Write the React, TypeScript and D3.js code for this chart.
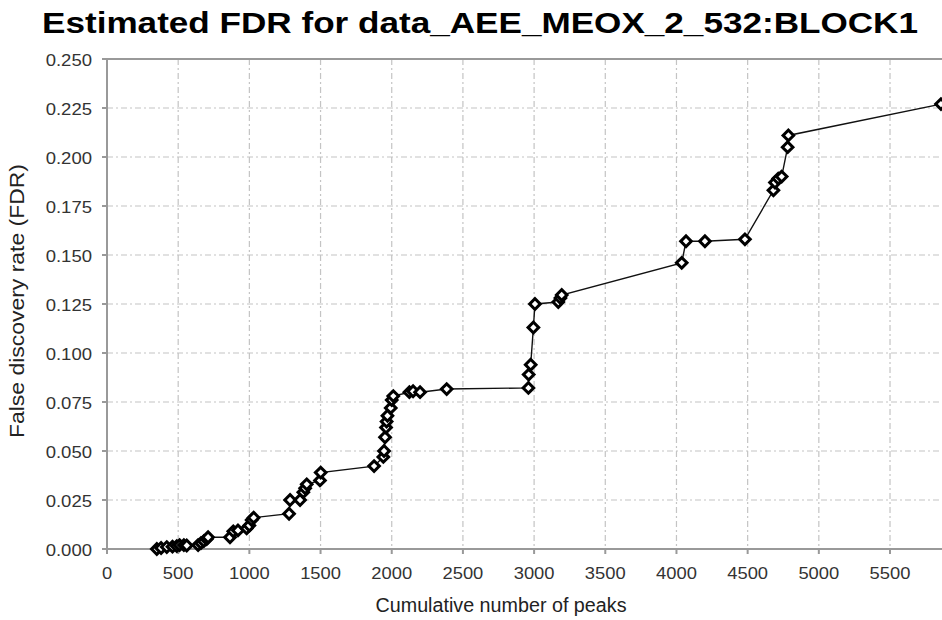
import { useRef, useEffect } from 'react';
import * as d3 from 'd3';

const peaks = [
  350, 380, 420, 460, 490, 510, 540, 560, 640, 660, 680, 700, 710,
  864, 887, 920, 981, 1000, 1016, 1030,
  1279, 1286, 1356, 1379, 1392, 1403, 1496, 1501,
  1876, 1941, 1946, 1953, 1960, 1964, 1970, 1993, 2000, 2011,
  2124, 2150, 2199, 2386,
  2960, 2962, 2976, 2995, 3006, 3170, 3185, 3194,
  4037, 4067, 4200, 4481, 4681, 4692, 4715, 4739, 4781, 4786, 5858,
];
const fdr = [
  0.0, 0.0005, 0.001, 0.0012, 0.0015, 0.002, 0.002, 0.0018, 0.002, 0.003, 0.004, 0.005, 0.006,
  0.006, 0.009, 0.0095, 0.0105, 0.012, 0.0148, 0.016,
  0.018, 0.025, 0.025, 0.029, 0.031, 0.033, 0.035, 0.039,
  0.0423, 0.047, 0.05, 0.057, 0.062, 0.065, 0.068, 0.072, 0.076, 0.078,
  0.08, 0.0805, 0.08, 0.0816,
  0.0822, 0.089, 0.094, 0.113, 0.125, 0.126, 0.128, 0.1296,
  0.146, 0.157, 0.157, 0.158, 0.183, 0.187, 0.189, 0.19, 0.205, 0.211, 0.227,
];
const xTicks = [0, 500, 1000, 1500, 2000, 2500, 3000, 3500, 4000, 4500, 5000, 5500];
const yTicks = [0, 0.025, 0.05, 0.075, 0.1, 0.125, 0.15, 0.175, 0.2, 0.225, 0.25];

const W = 942;
const H = 620;
const font = 'Liberation Sans, Arial, sans-serif';

// stretched glyphs like the source bitmap: digits ~10px, dot ~5.5px
const labelLen = (s: string) =>
  s.split('').reduce((a, c) => a + (c === '.' ? 5.5 : 10.2), 0);

export default function App() {
  const svgRef = useRef<SVGSVGElement>(null);

  useEffect(() => {
    const svg = d3.select(svgRef.current);
    svg.selectAll('*').remove();

    const x = d3.scaleLinear().domain([0, 6000]).range([107, 961.2]);
    const y = d3.scaleLinear().domain([0, 0.25]).range([549, 59]);
    const left = x(0);
    const bottom = y(0);
    const top = y(0.25);

    svg.append('rect').attr('width', W).attr('height', H).attr('fill', 'white');

    // grid
    const grid = svg.append('g').attr('stroke', '#c4c4c4').attr('stroke-width', 1.2)
      .attr('stroke-dasharray', '6,3,2,3');
    grid.selectAll('.vx').data(xTicks.filter(d => d > 0)).enter().append('line')
      .attr('x1', d => x(d)).attr('x2', d => x(d)).attr('y1', top).attr('y2', bottom);
    grid.selectAll('.hy').data(yTicks.filter(d => d > 0 && d < 0.25)).enter().append('line')
      .attr('x1', left).attr('x2', W).attr('y1', d => y(d)).attr('y2', d => y(d));

    // frame + ticks
    const frame = svg.append('g').attr('stroke', '#999').attr('stroke-width', 2);
    frame.append('line').attr('x1', left).attr('x2', left).attr('y1', top).attr('y2', bottom);
    frame.append('line').attr('x1', left - 1).attr('x2', W).attr('y1', bottom).attr('y2', bottom);
    frame.append('line').attr('x1', left - 1).attr('x2', W).attr('y1', top).attr('y2', top);
    frame.selectAll('.tx').data(xTicks).enter().append('line')
      .attr('x1', d => x(d)).attr('x2', d => x(d)).attr('y1', bottom).attr('y2', bottom + 5);
    frame.selectAll('.ty').data(yTicks).enter().append('line')
      .attr('x1', left - 5).attr('x2', left).attr('y1', d => y(d)).attr('y2', d => y(d));

    // tick labels
    svg.selectAll('.xl').data(xTicks).enter().append('text')
      .attr('x', d => x(d)).attr('y', bottom + 30)
      .attr('text-anchor', 'middle').attr('font-family', font).attr('font-size', 16)
      .attr('textLength', d => labelLen(String(d))).attr('lengthAdjust', 'spacingAndGlyphs')
      .attr('fill', '#333').text(d => String(d));
    svg.selectAll('.yl').data(yTicks).enter().append('text')
      .attr('x', left - 15).attr('y', d => y(d) + 6.5)
      .attr('text-anchor', 'end').attr('font-family', font).attr('font-size', 16)
      .attr('textLength', d => labelLen(d3.format('.3f')(d))).attr('lengthAdjust', 'spacingAndGlyphs')
      .attr('fill', '#333').text(d => d3.format('.3f')(d));

    // line + markers
    const pts = peaks.map((p, i) => [x(p), y(fdr[i])] as [number, number]);
    svg.append('path').datum(pts).attr('d', d3.line()).attr('fill', 'none')
      .attr('stroke', '#111').attr('stroke-width', 1.4);
    svg.selectAll('.mk').data(pts).enter().append('path')
      .attr('d', d3.symbol(d3.symbolSquare, 56)())
      .attr('transform', d => `translate(${d[0]},${d[1]}) rotate(45)`)
      .attr('fill', 'white').attr('stroke', '#000').attr('stroke-width', 3);

    // titles
    svg.append('text').attr('x', 42).attr('y', 33).attr('font-family', font)
      .attr('font-weight', 'bold').attr('font-size', 29).attr('fill', '#000')
      .attr('textLength', 876).attr('lengthAdjust', 'spacingAndGlyphs')
      .text('Estimated FDR for data_AEE_MEOX_2_532:BLOCK1');
    svg.append('text').attr('x', 501).attr('y', 612).attr('text-anchor', 'middle')
      .attr('font-family', font).attr('font-size', 19.5).attr('fill', '#222')
      .attr('textLength', 251).attr('lengthAdjust', 'spacingAndGlyphs')
      .text('Cumulative number of peaks');
    svg.append('text').attr('transform', `translate(24,301) rotate(-90)`)
      .attr('text-anchor', 'middle').attr('font-family', font).attr('font-size', 20)
      .attr('textLength', 274).attr('lengthAdjust', 'spacingAndGlyphs')
      .attr('fill', '#222').text('False discovery rate (FDR)');
  }, []);

  return (
    <svg ref={svgRef} width={W} height={H}
      style={{ position: 'absolute', left: 0, top: 0, display: 'block' }} />
  );
}
